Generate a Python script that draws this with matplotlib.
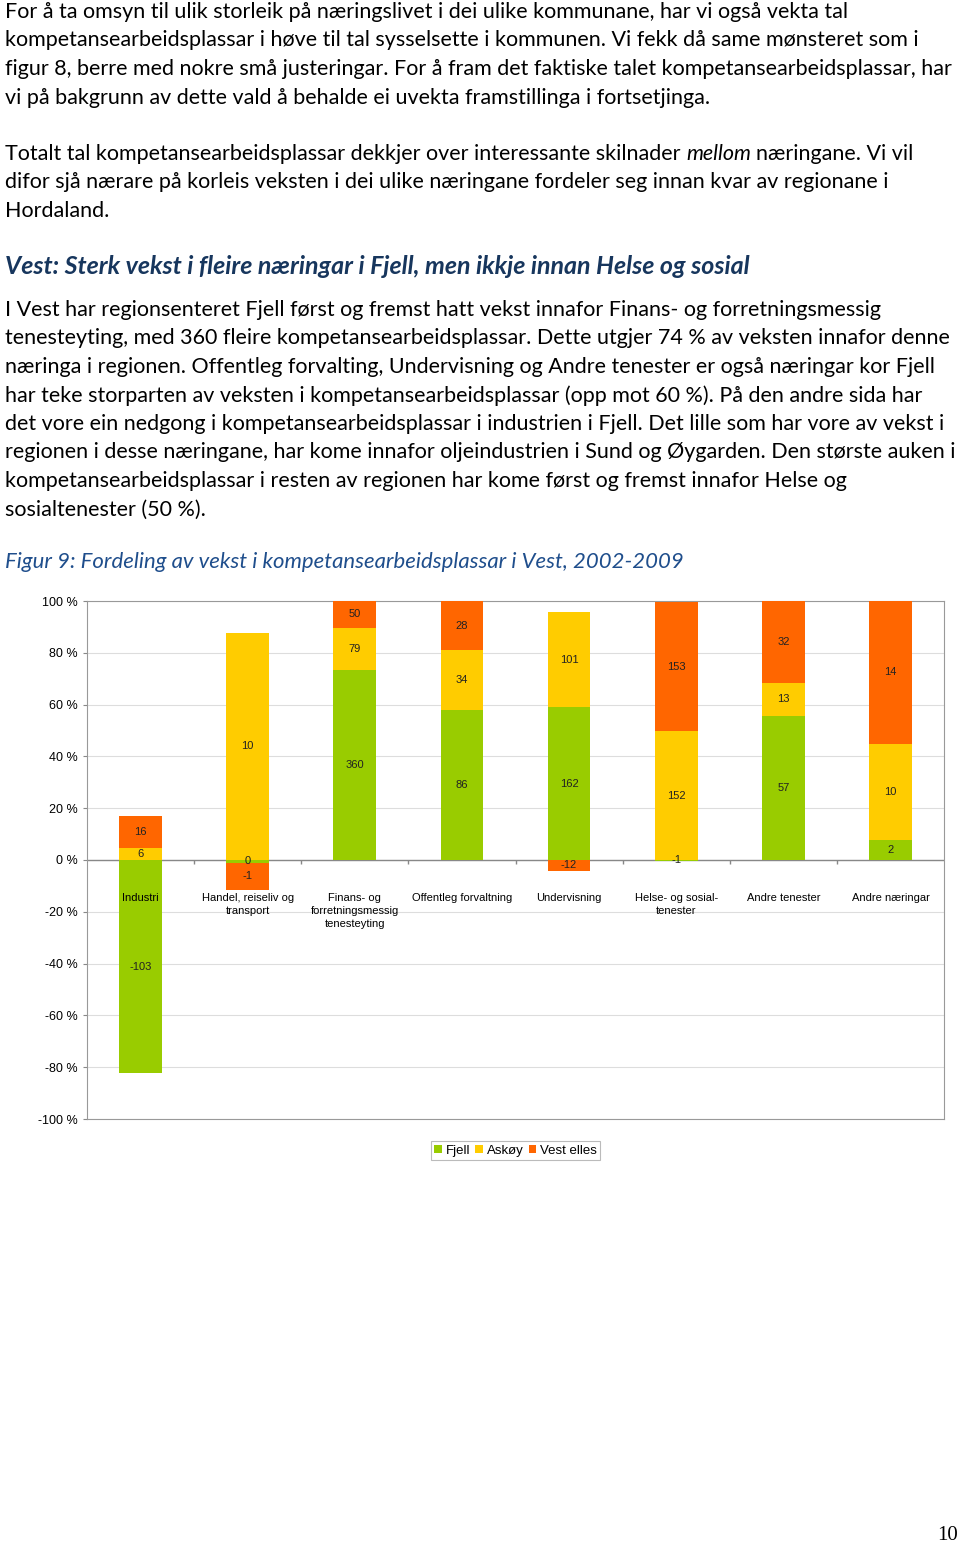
import numpy as np
import matplotlib
matplotlib.use("Agg")
import matplotlib.pyplot as plt

# --- page text ---
para1 = [
    "For å ta omsyn til ulik storleik på næringslivet i dei ulike kommunane, har vi også vekta tal",
    "kompetansearbeidsplassar i høve til tal sysselsette i kommunen. Vi fekk då same mønsteret som i",
    "figur 8, berre med nokre små justeringar. For å fram det faktiske talet kompetansearbeidsplassar, har",
    "vi på bakgrunn av dette vald å behalde ei uvekta framstillinga i fortsetjinga.",
]
para2_first = ("Totalt tal kompetansearbeidsplassar dekkjer over interessante skilnader",
               "mellom", "næringane. Vi vil")
para2_rest = [
    "difor sjå nærare på korleis veksten i dei ulike næringane fordeler seg innan kvar av regionane i",
    "Hordaland.",
]
heading = "Vest: Sterk vekst i fleire næringar i Fjell, men ikkje innan Helse og sosial"
para3 = [
    "I Vest har regionsenteret Fjell først og fremst hatt vekst innafor Finans- og forretningsmessig",
    "tenesteyting, med 360 fleire kompetansearbeidsplassar. Dette utgjer 74 % av veksten innafor denne",
    "næringa i regionen. Offentleg forvalting, Undervisning og Andre tenester er også næringar kor Fjell",
    "har teke storparten av veksten i kompetansearbeidsplassar (opp mot 60 %). På den andre sida har",
    "det vore ein nedgong i kompetansearbeidsplassar i industrien i Fjell. Det lille som har vore av vekst i",
    "regionen i desse næringane, har kome innafor oljeindustrien i Sund og Øygarden. Den største auken i",
    "kompetansearbeidsplassar i resten av regionen har kome først og fremst innafor Helse og",
    "sosialtenester (50 %).",
]
caption = "Figur 9: Fordeling av vekst i kompetansearbeidsplassar i Vest, 2002-2009"
page_no = "10"

# --- chart data ---
categories = ["Industri", "Handel, reiseliv og\ntransport", "Finans- og\nforretningsmessig\ntenesteyting",
              "Offentleg forvaltning", "Undervisning", "Helse- og sosial-\ntenester",
              "Andre tenester", "Andre næringar"]
series = ["Fjell", "Askøy", "Vest elles"]
# share of growth (%)
fjell_pct = [-82.3, -1.0, 73.4, 57.8, 58.9, -0.3, 55.7, 7.6]
askoy_pct = [4.5, 87.8, 16.2, 23.1, 36.7, 49.7, 12.7, 37.2]
vest_pct = [12.6, -10.7, 10.4, 19.1, -4.2, 50.0, 31.6, 55.2]
# number of jobs shown as data labels
fjell_n = [-103, 0, 360, 86, 162, -1, 57, 2]
askoy_n = [6, 10, 79, 34, 101, 152, 13, 10]
vest_n = [16, -1, 50, 28, -12, 153, 32, 14]
colors = ["#99CC00", "#FFCC00", "#FF6600"]

W, H = 960, 1542
fig = plt.figure(figsize=(W / 100, H / 100), dpi=100)
r = fig.canvas.get_renderer()
BODY = ["Lato", "DejaVu Sans"]


def put(x, y, s, **kw):
    return fig.text(x / W, 1 - y / H, s, va="baseline", ha="left", **kw)


def width(t):
    return t.get_window_extent(r).width


def fit(t, target):
    t.set_fontsize(t.get_fontsize() * target / width(t))
    return t.get_fontsize()


# body text size fitted to the first line
t = put(5, 18, para1[0], family=BODY, fontsize=14, color="black")
body_size = fit(t, 842)
for i, line in enumerate(para1[1:], 1):
    put(5, 18 + 28.5 * i, line, family=BODY, fontsize=body_size)

# paragraph 2 with italic word
ta = put(5, 400, "a a", family=BODY, fontsize=body_size)
tb = put(5, 400, "aa", family=BODY, fontsize=body_size)
sp = width(ta) - width(tb)
ta.remove()
tb.remove()
t1 = put(5, 160, para2_first[0], family=BODY, fontsize=body_size)
x2 = 5 + width(t1) + sp
t2 = put(x2, 160, para2_first[1], family=BODY, fontsize=body_size, style="italic")
x3 = x2 + width(t2) + sp
put(x3, 160, para2_first[2], family=BODY, fontsize=body_size)
for i, line in enumerate(para2_rest, 1):
    put(5, 160 + 28.5 * i, line, family=BODY, fontsize=body_size)

th = put(5, 274, heading, family=BODY, fontsize=15, weight="bold", style="italic", color="#17365D")
fit(th, 746)

for i, line in enumerate(para3):
    put(5, 316 + 28.5 * i, line, family=BODY, fontsize=body_size)

tc = put(5, 568, caption, family=BODY, fontsize=14, style="italic", color="#1F4E8C")
fit(tc, 681)

fig.text(958 / W, 1 - 1540 / H, page_no, ha="right", va="baseline",
         family=["Liberation Serif", "DejaVu Serif"], fontsize=15)

# --- chart ---
CH = ["Liberation Sans", "DejaVu Sans"]
ax = fig.add_axes([87 / W, 1 - 1119 / H, 857 / W, 518 / H])
x = np.arange(len(categories))
pos_bottom = np.zeros(len(x))
neg_bottom = np.zeros(len(x))
for name, pct, nums, c in zip(series, [fjell_pct, askoy_pct, vest_pct],
                              [fjell_n, askoy_n, vest_n], colors):
    pct = np.array(pct)
    base = np.where(pct >= 0, pos_bottom, neg_bottom)
    ax.bar(x, pct, 0.4, bottom=base, color=c, label=name, zorder=3)
    for xi, b, p, n in zip(x, base, pct, nums):
        ax.text(xi, b + p / 2, str(n), ha="center", va="center", fontsize=8,
                family=CH, color="#222222", zorder=4)
    pos_bottom += np.where(pct >= 0, pct, 0)
    neg_bottom += np.where(pct < 0, pct, 0)

ax.set_xlim(-0.5, len(x) - 0.5)
ax.set_ylim(-100, 100)
yt = np.arange(-100, 101, 20)
ax.set_yticks(yt)
ax.set_yticklabels([f"{v} %" for v in yt], family=CH, fontsize=9)
ax.tick_params(axis="y", length=3, color="#888888", pad=4)
ax.set_xticks([])
ax.yaxis.grid(True, color="#DDDDDD", lw=0.8, zorder=0)
ax.axhline(0, color="#888888", lw=1, zorder=2)
ax.vlines(x[:-1] + 0.5, -1.4, 0, color="#888888", lw=1, zorder=2)
for s in ax.spines.values():
    s.set_color("#999999")
for xi, lab in zip(x, categories):
    ax.text(xi, -12.6, lab, ha="center", va="top", fontsize=8, family=CH,
            linespacing=1.4, zorder=5)

leg = ax.legend(loc="center", bbox_to_anchor=(0.5, -0.061), ncol=3, prop={"family": CH, "size": 9.5},
                fancybox=False, edgecolor="#AAAAAA", handlelength=0.6, handleheight=0.6,
                handletextpad=0.25, columnspacing=0.4, borderpad=0.25, borderaxespad=0)
leg.get_frame().set_linewidth(0.8)

fig.savefig("out.png", dpi=100)
